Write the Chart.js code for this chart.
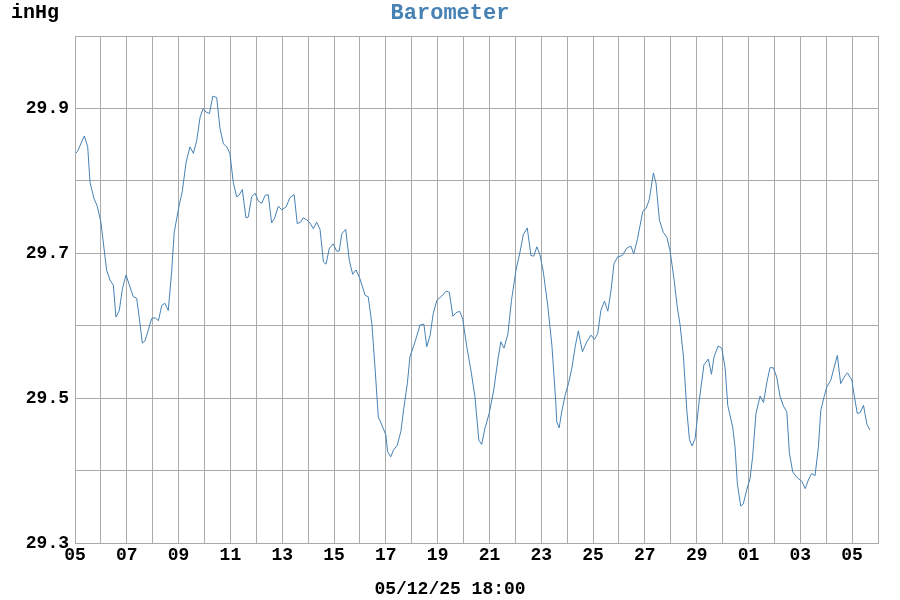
<!DOCTYPE html>
<html>
<head>
<meta charset="utf-8">
<script src="https://cdn.jsdelivr.net/npm/chart.js@4.4.1/dist/chart.umd.min.js"></script>
<style>
  html, body { margin: 0; padding: 0; background: #ffffff; }
  canvas { display: block; }
</style>
</head>
<body>
<canvas id="baroChart" width="900" height="600"></canvas>
<script>
// days since the 05th, 00:00
const sampleDays = [
  0.03, 0.10, 0.36, 0.49, 0.58, 0.73, 0.86, 1.00, 1.22, 1.35, 1.48, 1.58, 1.71, 1.83, 1.97,
  2.10, 2.25, 2.38, 2.47, 2.60, 2.70, 2.83, 2.96, 3.09, 3.22, 3.35, 3.47, 3.60, 3.73, 3.83,
  4.02, 4.14, 4.29, 4.44, 4.57, 4.70, 4.83, 4.95, 5.06, 5.19, 5.32, 5.47, 5.60, 5.73, 5.86,
  5.98, 6.11, 6.24, 6.33, 6.46, 6.60, 6.69, 6.82, 6.95, 7.08, 7.21, 7.34, 7.46, 7.59, 7.70,
  7.85, 7.98, 8.15, 8.30, 8.46, 8.58, 8.71, 8.81, 8.95, 9.07, 9.20, 9.33, 9.46, 9.59, 9.69,
  9.82, 9.97, 10.10, 10.20, 10.30, 10.45, 10.59, 10.72, 10.85, 11.00, 11.20, 11.32, 11.46, 11.58, 11.71,
  11.88, 12.00, 12.07, 12.19, 12.29, 12.44, 12.58, 12.70, 12.83, 12.93, 13.13, 13.32, 13.47, 13.58, 13.71,
  13.83, 13.97, 14.16, 14.34, 14.45, 14.59, 14.71, 14.85, 14.97, 15.12, 15.30, 15.44, 15.59, 15.70, 15.83,
  15.99, 16.17, 16.33, 16.44, 16.56, 16.71, 16.85, 17.03, 17.17, 17.31, 17.46, 17.60, 17.71, 17.83, 17.95,
  18.08, 18.25, 18.41, 18.56, 18.60, 18.69, 18.79, 18.92, 19.05, 19.18, 19.31, 19.43, 19.59, 19.76, 19.92,
  20.05, 20.18, 20.30, 20.44, 20.57, 20.69, 20.81, 20.95, 21.13, 21.30, 21.46, 21.57, 21.71, 21.92, 22.05,
  22.17, 22.33, 22.43, 22.56, 22.71, 22.85, 22.97, 23.13, 23.25, 23.36, 23.49, 23.62, 23.72, 23.82, 23.94,
  24.10, 24.28, 24.45, 24.57, 24.67, 24.83, 24.97, 25.10, 25.20, 25.39, 25.48, 25.57, 25.70, 25.80, 25.93,
  26.06, 26.16, 26.29, 26.45, 26.58, 26.71, 26.83, 26.96, 27.09, 27.22, 27.35, 27.48, 27.58, 27.71, 27.86,
  28.06, 28.19, 28.31, 28.44, 28.57, 28.70, 28.79, 28.92, 29.02, 29.18, 29.31, 29.43, 29.56, 29.69, 29.82,
  29.99, 30.08, 30.20, 30.31, 30.44, 30.57, 30.69
];

const pressure = [
  29.838, 29.841, 29.862, 29.847, 29.798, 29.776, 29.765, 29.743, 29.677, 29.663, 29.656, 29.612, 29.621, 29.651, 29.670,
  29.656, 29.640, 29.638, 29.614, 29.576, 29.579, 29.594, 29.610, 29.611, 29.607, 29.628, 29.631, 29.621, 29.674, 29.729,
  29.766, 29.785, 29.826, 29.847, 29.838, 29.856, 29.888, 29.900, 29.895, 29.893, 29.917, 29.915, 29.872, 29.851, 29.847,
  29.838, 29.798, 29.778, 29.780, 29.788, 29.749, 29.750, 29.778, 29.783, 29.772, 29.769, 29.780, 29.781, 29.742, 29.748,
  29.765, 29.760, 29.764, 29.777, 29.781, 29.741, 29.743, 29.749, 29.746, 29.742, 29.734, 29.743, 29.733, 29.688, 29.685,
  29.707, 29.713, 29.703, 29.703, 29.727, 29.733, 29.690, 29.671, 29.677, 29.665, 29.642, 29.640, 29.603, 29.543, 29.474,
  29.460, 29.449, 29.426, 29.419, 29.428, 29.435, 29.454, 29.488, 29.520, 29.557, 29.578, 29.601, 29.602, 29.571, 29.587,
  29.617, 29.635, 29.641, 29.648, 29.646, 29.613, 29.618, 29.620, 29.609, 29.572, 29.535, 29.502, 29.442, 29.436, 29.459,
  29.479, 29.512, 29.554, 29.578, 29.569, 29.588, 29.635, 29.678, 29.700, 29.726, 29.735, 29.697, 29.696, 29.709, 29.698,
  29.674, 29.628, 29.573, 29.495, 29.467, 29.459, 29.481, 29.504, 29.520, 29.541, 29.571, 29.593, 29.564, 29.578, 29.587,
  29.581, 29.589, 29.621, 29.634, 29.620, 29.648, 29.686, 29.695, 29.697, 29.707, 29.710, 29.699, 29.719, 29.758, 29.762,
  29.774, 29.811, 29.797, 29.746, 29.729, 29.722, 29.704, 29.663, 29.626, 29.601, 29.557, 29.483, 29.443, 29.434, 29.444,
  29.497, 29.546, 29.554, 29.533, 29.557, 29.572, 29.569, 29.541, 29.490, 29.460, 29.433, 29.382, 29.351, 29.354, 29.373,
  29.389, 29.419, 29.479, 29.503, 29.494, 29.522, 29.542, 29.542, 29.529, 29.502, 29.489, 29.481, 29.424, 29.398, 29.391,
  29.385, 29.375, 29.387, 29.396, 29.393, 29.433, 29.483, 29.502, 29.515, 29.525, 29.543, 29.559, 29.520, 29.529, 29.535,
  29.525, 29.504, 29.479, 29.480, 29.490, 29.464, 29.456
];

const xTickLabels = ['05', '07', '09', '11', '13', '15', '17', '19', '21', '23', '25', '27', '29', '01', '03', '05'];
const yTickLabels = ['29.3', '29.5', '29.7', '29.9'];

const gridColor = '#aaaaaa';
const monoFont = 'Liberation Mono';

Chart.defaults.font.family = monoFont;
Chart.defaults.font.weight = 'bold';
Chart.defaults.color = '#000000';

// title, unit and end-time label, centred on the whole image like the original
const chartTexts = {
    id: 'chartTexts',
    afterDraw(chart) {
        const c = chart.ctx;
        const mid = chart.width / 2;
        c.save();
        c.textBaseline = 'middle';

        c.font = 'bold 22px ' + monoFont;
        c.fillStyle = '#4682b4';
        c.textAlign = 'center';
        c.fillText('Barometer', mid, 13);

        c.font = 'bold 20px ' + monoFont;
        c.fillStyle = '#000000';
        c.textAlign = 'left';
        c.fillText('inHg', 11, 13);

        c.font = 'bold 18px ' + monoFont;
        c.textAlign = 'center';
        c.fillText('05/12/25 18:00', mid, 589);
        c.restore();
    }
};

const ctx = document.getElementById('baroChart').getContext('2d');

new Chart(ctx, {
    type: 'line',
    data: {
        datasets: [{
            label: 'Barometer',
            data: sampleDays.map((d, i) => ({ x: d, y: pressure[i] })),
            borderColor: '#4682b4',
            borderWidth: 1,
            pointRadius: 0,
            tension: 0,
            fill: false
        }]
    },
    options: {
        responsive: false,
        animation: false,
        layout: {
            padding: { left: 0, right: 22, top: 36, bottom: 21.6 }
        },
        plugins: {
            legend: { display: false },
            tooltip: { enabled: false }
        },
        scales: {
            x: {
                type: 'linear',
                min: 0,
                max: 31,
                afterFit: function (scale) { scale.height = 35.4; },
                grid: { color: gridColor, drawTicks: false },
                border: { color: gridColor },
                ticks: {
                    stepSize: 1,
                    autoSkip: false,
                    maxRotation: 0,
                    padding: 2,
                    font: { size: 18 },
                    callback: function (value) {
                        return value % 2 === 0 ? (xTickLabels[value / 2] || '') : '';
                    }
                }
            },
            y: {
                min: 29.3,
                max: 30.0,
                afterFit: function (scale) { scale.width = 75; },
                grid: { color: gridColor, drawTicks: false },
                border: { color: gridColor },
                ticks: {
                    stepSize: 0.1,
                    padding: 6,
                    font: { size: 18 },
                    callback: function (value) {
                        const s = value.toFixed(1);
                        return yTickLabels.includes(s) ? s : '';
                    }
                }
            }
        }
    },
    plugins: [chartTexts]
});
</script>
</body>
</html>
